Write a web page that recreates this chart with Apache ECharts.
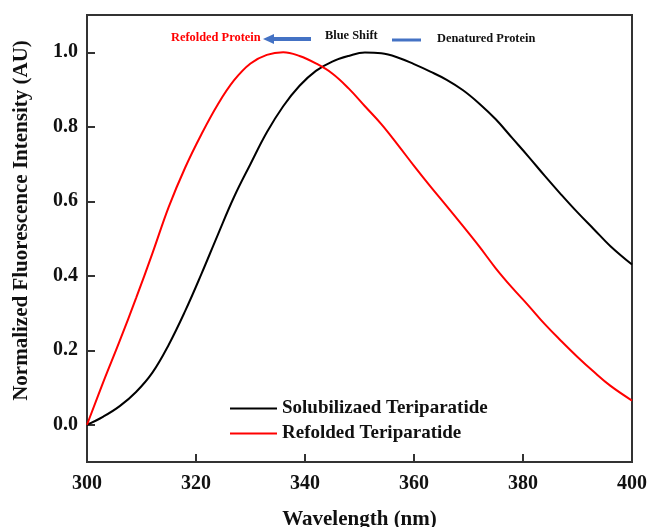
<!DOCTYPE html>
<html>
<head>
<meta charset="utf-8">
<script src="https://cdn.jsdelivr.net/npm/echarts@6/dist/echarts.min.js"></script>
<style>
  html, body { margin: 0; padding: 0; background: #fff; }
  #chart { width: 649px; height: 527px; }
</style>
</head>
<body>
<div id="chart"></div>
<script>
// wavelength grid (nm) and normalized intensities
var wavelengths = [300, 303, 306, 309, 312, 315, 318, 321, 324, 327, 330, 333, 336, 339, 342, 345, 348, 351,
  354, 357, 360, 363, 366, 369, 372, 375, 378, 381, 384, 387, 390, 393, 396, 400];
var solubilized = [0.00, 0.022, 0.05, 0.088, 0.14, 0.215, 0.305, 0.405, 0.51, 0.612, 0.70, 0.785, 0.855, 0.91, 0.95, 0.975, 0.99, 0.999,
  0.997, 0.986, 0.968, 0.948, 0.926, 0.898, 0.862, 0.82, 0.77, 0.72, 0.668, 0.618, 0.57, 0.525, 0.48, 0.43];
var refolded = [0.00, 0.115, 0.225, 0.34, 0.46, 0.585, 0.69, 0.78, 0.86, 0.925, 0.97, 0.993, 1.00, 0.99, 0.97, 0.943, 0.903, 0.855,
  0.807, 0.752, 0.695, 0.64, 0.587, 0.533, 0.478, 0.42, 0.368, 0.32, 0.27, 0.225, 0.182, 0.142, 0.105, 0.065];
var yTicks = [0, 0.2, 0.4, 0.6, 0.8, 1.0];

function pairs(ys) {
  return wavelengths.map(function (x, i) { return [x, ys[i]]; });
}

var font = '"Liberation Serif", "Times New Roman", serif';
var chart = echarts.init(document.getElementById('chart'));

var option = {
  animation: false,
  textStyle: { fontFamily: font },
  grid: {
    left: 87, right: 17, top: 15, bottom: 65,
    outerBoundsMode: 'none', containLabel: false,
    show: true, borderColor: '#333', borderWidth: 2
  },
  legend: {
    orient: 'vertical',
    left: 224, top: 394,
    itemWidth: 47, itemHeight: 14, itemGap: 6,
    itemStyle: { opacity: 0 },
    textStyle: { fontFamily: font, fontSize: 19, fontWeight: 'bold', color: '#111' },
    data: ['Solubilizaed Teriparatide', 'Refolded Teriparatide']
  },
  xAxis: {
    type: 'value', min: 300, max: 400, interval: 20,
    name: 'Wavelength (nm)', nameLocation: 'middle', nameGap: 47,
    nameTextStyle: { fontFamily: font, fontSize: 21, fontWeight: 'bold', color: '#111' },
    axisLine: { onZero: false, lineStyle: { color: '#333', width: 2 } },
    axisTick: { inside: true, length: 8, lineStyle: { color: '#333', width: 2 } },
    axisLabel: { margin: 12, fontFamily: font, fontSize: 20, fontWeight: 'bold', color: '#111' },
    splitLine: { show: false }
  },
  yAxis: {
    type: 'value', min: -0.1, max: 1.1,
    name: 'Normalized Fluorescence Intensity (AU)', nameLocation: 'middle', nameGap: 55,
    nameTextStyle: { fontFamily: font, fontSize: 21, fontWeight: 'bold', color: '#111', padding: [0, 0, 0, 36] },
    axisLine: { show: true, onZero: false, lineStyle: { color: '#333', width: 2 } },
    axisTick: { show: true, inside: true, length: 8, customValues: yTicks, lineStyle: { color: '#333', width: 2 } },
    axisLabel: {
      margin: 9, customValues: yTicks, fontFamily: font, fontSize: 20, fontWeight: 'bold', color: '#111',
      formatter: function (v) { return v.toFixed(1); }
    },
    splitLine: { show: false }
  },
  series: [
    {
      name: 'Solubilizaed Teriparatide', type: 'line', smooth: 0.4, symbol: 'none',
      lineStyle: { color: '#000', width: 2 }, itemStyle: { color: '#000' },
      data: pairs(solubilized)
    },
    {
      name: 'Refolded Teriparatide', type: 'line', smooth: 0.4, symbol: 'none',
      lineStyle: { color: '#ff0000', width: 2 }, itemStyle: { color: '#ff0000' },
      data: pairs(refolded)
    }
  ],
  graphic: [
    { type: 'text', left: 171, top: 32, style: { text: 'Refolded Protein', fill: '#ff0000', font: 'bold 12.4px ' + font } },
    { type: 'line', shape: { x1: 272, y1: 39, x2: 311, y2: 39 }, style: { stroke: '#4472c4', lineWidth: 4 } },
    { type: 'polygon', shape: { points: [[263, 39], [274, 34], [274, 44]] }, style: { fill: '#4472c4' } },
    { type: 'text', left: 325, top: 30, style: { text: 'Blue Shift', fill: '#111', font: 'bold 12.4px ' + font } },
    { type: 'line', shape: { x1: 392, y1: 40, x2: 421, y2: 40 }, style: { stroke: '#4472c4', lineWidth: 3 } },
    { type: 'text', left: 437, top: 33, style: { text: 'Denatured Protein', fill: '#111', font: 'bold 12.4px ' + font } }
  ]
};

chart.setOption(option);
</script>
</body>
</html>
